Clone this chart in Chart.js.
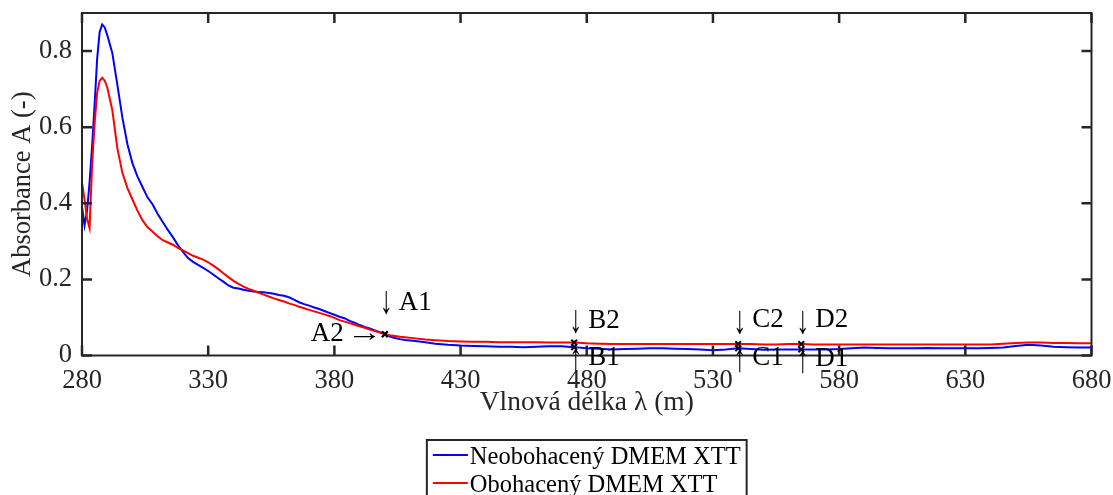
<!DOCTYPE html>
<html lang="cs">
<head>
<meta charset="utf-8">
<title>Absorbance DMEM XTT</title>
<script src="https://cdn.jsdelivr.net/npm/chart.js@4/dist/chart.umd.min.js"></script>
<style>
  html, body { margin: 0; padding: 0; background: #fff; }
  #obal { width: 1113px; height: 495px; }
</style>
</head>
<body>
<div id="obal"><canvas id="graf"></canvas></div>
<script>
// vlnové délky (nm)
const vlnovaDelka = [
  280, 281, 282, 283, 284, 285, 286, 287, 288, 289, 290,
  292, 294, 296, 298, 300, 302, 304, 306, 308, 310, 312, 314, 316, 318, 320,
  322, 324, 326, 328, 330, 332, 334, 336, 338, 340, 342, 344, 346, 348, 350,
  352, 354, 356, 358, 360, 362, 364, 366, 368, 370, 372, 374, 376, 378, 380,
  382, 384, 386, 388, 390, 392, 394, 396, 398, 400, 402, 404, 406, 408,
  412, 416, 420,
  425, 430, 435, 440, 445, 450, 455, 460, 465, 470, 475, 480, 485, 490, 495, 500,
  505, 510, 515, 520, 525, 530, 535, 540, 545, 550, 555, 560, 565, 570, 575, 580,
  585, 590, 595, 600, 605, 610, 615, 620, 625, 630, 635, 640, 645, 650, 655, 660,
  665, 670, 675, 680
];

const neobohaceny = [
  0.392, 0.342, 0.380, 0.455, 0.550, 0.660, 0.780, 0.850, 0.870, 0.862, 0.842,
  0.795, 0.712, 0.625, 0.555, 0.505, 0.470, 0.442, 0.415, 0.397, 0.372, 0.351, 0.330, 0.311, 0.290, 0.272,
  0.256, 0.246, 0.238, 0.230, 0.222, 0.213, 0.203, 0.194, 0.184, 0.178, 0.176, 0.173, 0.170, 0.168, 0.167,
  0.166, 0.164, 0.162, 0.159, 0.157, 0.153, 0.147, 0.140, 0.135, 0.131, 0.126, 0.122, 0.117, 0.112, 0.107,
  0.102, 0.098, 0.091, 0.086, 0.080, 0.075, 0.071, 0.066, 0.061, 0.056, 0.050, 0.046, 0.043, 0.041,
  0.038, 0.035, 0.031,
  0.028, 0.026, 0.025, 0.024, 0.023, 0.023, 0.022, 0.023, 0.024, 0.024, 0.022, 0.019, 0.018, 0.016, 0.017, 0.018,
  0.019, 0.019, 0.018, 0.017, 0.016, 0.014, 0.016, 0.019, 0.017, 0.015, 0.016, 0.016, 0.016, 0.016, 0.016, 0.017,
  0.019, 0.021, 0.020, 0.019, 0.019, 0.019, 0.020, 0.019, 0.019, 0.019, 0.019, 0.020, 0.021, 0.025, 0.028, 0.026,
  0.023, 0.022, 0.021, 0.021
];

const obohaceny = [
  0.455, 0.410, 0.360, 0.335, 0.500, 0.610, 0.690, 0.722, 0.730, 0.722, 0.705,
  0.645, 0.545, 0.480, 0.440, 0.410, 0.380, 0.355, 0.337, 0.325, 0.313, 0.303, 0.297, 0.291, 0.283, 0.276,
  0.269, 0.262, 0.257, 0.252, 0.245, 0.236, 0.227, 0.216, 0.206, 0.196, 0.188, 0.181, 0.175, 0.170, 0.165,
  0.160, 0.155, 0.150, 0.146, 0.142, 0.137, 0.133, 0.128, 0.124, 0.120, 0.116, 0.112, 0.108, 0.104, 0.099,
  0.093, 0.089, 0.085, 0.081, 0.077, 0.073, 0.068, 0.064, 0.060, 0.056, 0.053, 0.051, 0.049, 0.048,
  0.045, 0.042, 0.040,
  0.038, 0.037, 0.036, 0.036, 0.035, 0.035, 0.035, 0.035, 0.034, 0.034, 0.034, 0.032, 0.031, 0.030, 0.030, 0.030,
  0.030, 0.030, 0.030, 0.030, 0.030, 0.030, 0.030, 0.030, 0.030, 0.029, 0.029, 0.030, 0.030, 0.029, 0.029, 0.029,
  0.029, 0.029, 0.029, 0.029, 0.029, 0.029, 0.029, 0.029, 0.029, 0.029, 0.029, 0.029, 0.031, 0.033, 0.034, 0.034,
  0.033, 0.033, 0.032, 0.032
];

// vyznačené body
const znackyNazev = ['A1', 'A2', 'B1', 'B2', 'C1', 'C2', 'D1', 'D2'];
const znackyVlna = [400, 400, 475, 475, 540, 540, 565, 565];
const znackyA = [0.056, 0.056, 0.022, 0.034, 0.019, 0.030, 0.016, 0.030];

const osaXTicky = [280, 330, 380, 430, 480, 530, 580, 630, 680];
const osaYTicky = [0, 0.2, 0.4, 0.6, 0.8];

const PISMO = "'Liberation Serif', 'Times New Roman', serif";
const SEDA = '#262626';

// kde se kreslí popisek vůči bodu: [strana, posun šipky, posun textu]
const umisteni = {
  A1: ['nad', -32, -31], A2: ['vlevo', 2, 0],
  B1: ['pod', 12, 11], B2: ['nad', -21, -22],
  C1: ['pod', 12, 10], C2: ['nad', -22, -24],
  D1: ['pod', 12, 9], D2: ['nad', -22, -24]
};

// rámeček kolem grafu a dovnitř mířící značky na všech čtyřech stranách
const ramecek = {
  id: 'ramecek',
  afterDraw(chart) {
    const { ctx, chartArea: a, scales: { x, y } } = chart;
    ctx.save();
    ctx.strokeStyle = SEDA;
    ctx.lineWidth = 2;
    ctx.strokeRect(a.left, a.top, a.right - a.left, a.bottom - a.top);
    ctx.lineWidth = 2.5;
    ctx.beginPath();
    osaXTicky.forEach(v => {
      const px = x.getPixelForValue(v);
      ctx.moveTo(px, a.bottom); ctx.lineTo(px, a.bottom - 10);
      ctx.moveTo(px, a.top); ctx.lineTo(px, a.top + 10);
    });
    osaYTicky.forEach(v => {
      const py = y.getPixelForValue(v);
      ctx.moveTo(a.left, py); ctx.lineTo(a.left + 10, py);
      ctx.moveTo(a.right, py); ctx.lineTo(a.right - 10, py);
    });
    ctx.stroke();
    ctx.restore();
  }
};

// šipka jako znak písma, protažená na danou délku a vystředěná na (cx, cy)
function kresliSipku(ctx, znak, cx, cy, delka) {
  ctx.save();
  ctx.font = `26px ${PISMO}`;
  ctx.textAlign = 'left';
  ctx.textBaseline = 'alphabetic';
  const m = ctx.measureText(znak);
  const w = m.actualBoundingBoxRight + m.actualBoundingBoxLeft;
  const h = m.actualBoundingBoxAscent + m.actualBoundingBoxDescent;
  const svisla = znak !== '→';
  const sx = svisla ? 1 : delka / w;
  const sy = svisla ? delka / h : 1;
  ctx.translate(cx, cy);
  ctx.scale(sx, sy);
  ctx.fillText(znak,
    -(m.actualBoundingBoxRight - m.actualBoundingBoxLeft) / 2,
    (m.actualBoundingBoxAscent - m.actualBoundingBoxDescent) / 2);
  ctx.restore();
}

// popisky bodů A1 ... D2 se šipkami
const popisky = {
  id: 'popisky',
  afterDraw(chart) {
    const { ctx, scales: { x, y } } = chart;
    ctx.save();
    ctx.fillStyle = '#000';
    ctx.font = `27px ${PISMO}`;
    ctx.textBaseline = 'middle';
    znackyNazev.forEach((nazev, i) => {
      const px = x.getPixelForValue(znackyVlna[i]);
      const py = y.getPixelForValue(znackyA[i]);
      const [kde, dySipky, dyTextu] = umisteni[nazev];
      if (kde === 'vlevo') {
        kresliSipku(ctx, '→', px - 20, py + dySipky, 22);
        ctx.textAlign = 'right';
        ctx.fillText(nazev, px - 41, py + dyTextu);
      } else {
        kresliSipku(ctx, kde === 'nad' ? '↓' : '↑', px + 1.5, py + dySipky, 24);
        ctx.textAlign = 'left';
        ctx.fillText(nazev, px + 14, py + dyTextu);
      }
    });
    ctx.restore();
  }
};

// legenda v rámečku pod osou x
const legenda = {
  id: 'legenda',
  afterDraw(chart) {
    const { ctx, chartArea: a, scales: { x } } = chart;
    const polozky = chart.data.datasets
      .filter(d => d.label)
      .sort((p, q) => p.poradiLegendy - q.poradiLegendy);
    ctx.save();
    ctx.font = `24.5px ${PISMO}`;
    const sirkaTextu = Math.max(...polozky.map(d => ctx.measureText(d.label).width));
    const sirka = 6 + 35 + 2 + sirkaTextu + 6;
    const levy = (a.left + a.right) / 2 - sirka / 2;
    const horni = x.bottom + 16;
    ctx.fillStyle = '#fff';
    ctx.fillRect(levy, horni, sirka, 70);
    ctx.strokeStyle = SEDA;
    ctx.lineWidth = 2;
    ctx.strokeRect(levy, horni, sirka, 70);
    polozky.forEach((d, i) => {
      const ly = horni + 15 + i * 28;
      ctx.strokeStyle = d.borderColor;
      ctx.lineWidth = 2;
      ctx.beginPath();
      ctx.moveTo(levy + 6, ly);
      ctx.lineTo(levy + 41, ly);
      ctx.stroke();
      ctx.fillStyle = '#000';
      ctx.textAlign = 'left';
      ctx.textBaseline = 'alphabetic';
      ctx.fillText(d.label, levy + 43, ly + 9);
    });
    ctx.restore();
  }
};

const body = (xs, ys) => xs.map((v, i) => ({ x: v, y: ys[i] }));

new Chart(document.getElementById('graf'), {
  type: 'line',
  data: {
    datasets: [
      {
        data: body(znackyVlna, znackyA),
        showLine: false,
        pointStyle: 'crossRot',
        pointRadius: 4,
        pointBorderWidth: 2,
        borderColor: '#000',
        backgroundColor: '#000',
        clip: false,
        order: 0
      },
      {
        label: 'Obohacený DMEM XTT',
        data: body(vlnovaDelka, obohaceny),
        borderColor: '#ff0000',
        borderWidth: 2,
        pointRadius: 0,
        order: 1,
        poradiLegendy: 2
      },
      {
        label: 'Neobohacený DMEM XTT',
        data: body(vlnovaDelka, neobohaceny),
        borderColor: '#0000ff',
        borderWidth: 2,
        pointRadius: 0,
        order: 2,
        poradiLegendy: 1
      }
    ]
  },
  options: {
    responsive: true,
    maintainAspectRatio: false,
    animation: false,
    devicePixelRatio: 1,
    layout: { padding: { left: 0, top: 13, right: 21.5, bottom: 71 } },
    plugins: {
      legend: { display: false },
      tooltip: { enabled: false }
    },
    scales: {
      x: {
        type: 'linear',
        min: 280,
        max: 680,
        grid: { display: false, drawTicks: false },
        border: { display: false },
        ticks: {
          stepSize: 50,
          padding: 9.5,
          color: SEDA,
          font: { family: PISMO, size: 26.5 },
          maxRotation: 0
        },
        title: {
          display: true,
          text: 'Vlnová délka λ (m)',
          color: SEDA,
          font: { family: PISMO, size: 27.5 },
          padding: { top: 0, bottom: 5 }
        },
        afterFit(scale) {
          scale.height = 68.5;
          scale.paddingLeft = 0;
          scale.paddingRight = 0;
        }
      },
      y: {
        min: 0,
        max: 0.9,
        grid: { display: false, drawTicks: false },
        border: { display: false },
        ticks: {
          stepSize: 0.2,
          includeBounds: false,
          padding: 10,
          color: SEDA,
          font: { family: PISMO, size: 26.5 },
          callback: v => String(Math.round(v * 10) / 10)
        },
        title: {
          display: true,
          text: 'Absorbance A (-)',
          color: SEDA,
          font: { family: PISMO, size: 26.5 },
          padding: { top: 7, bottom: 0 }
        },
        afterFit(scale) {
          scale.width = 82;
          scale.paddingTop = 0;
          scale.paddingBottom = 0;
        }
      }
    }
  },
  plugins: [ramecek, popisky, legenda]
});
</script>
</body>
</html>
